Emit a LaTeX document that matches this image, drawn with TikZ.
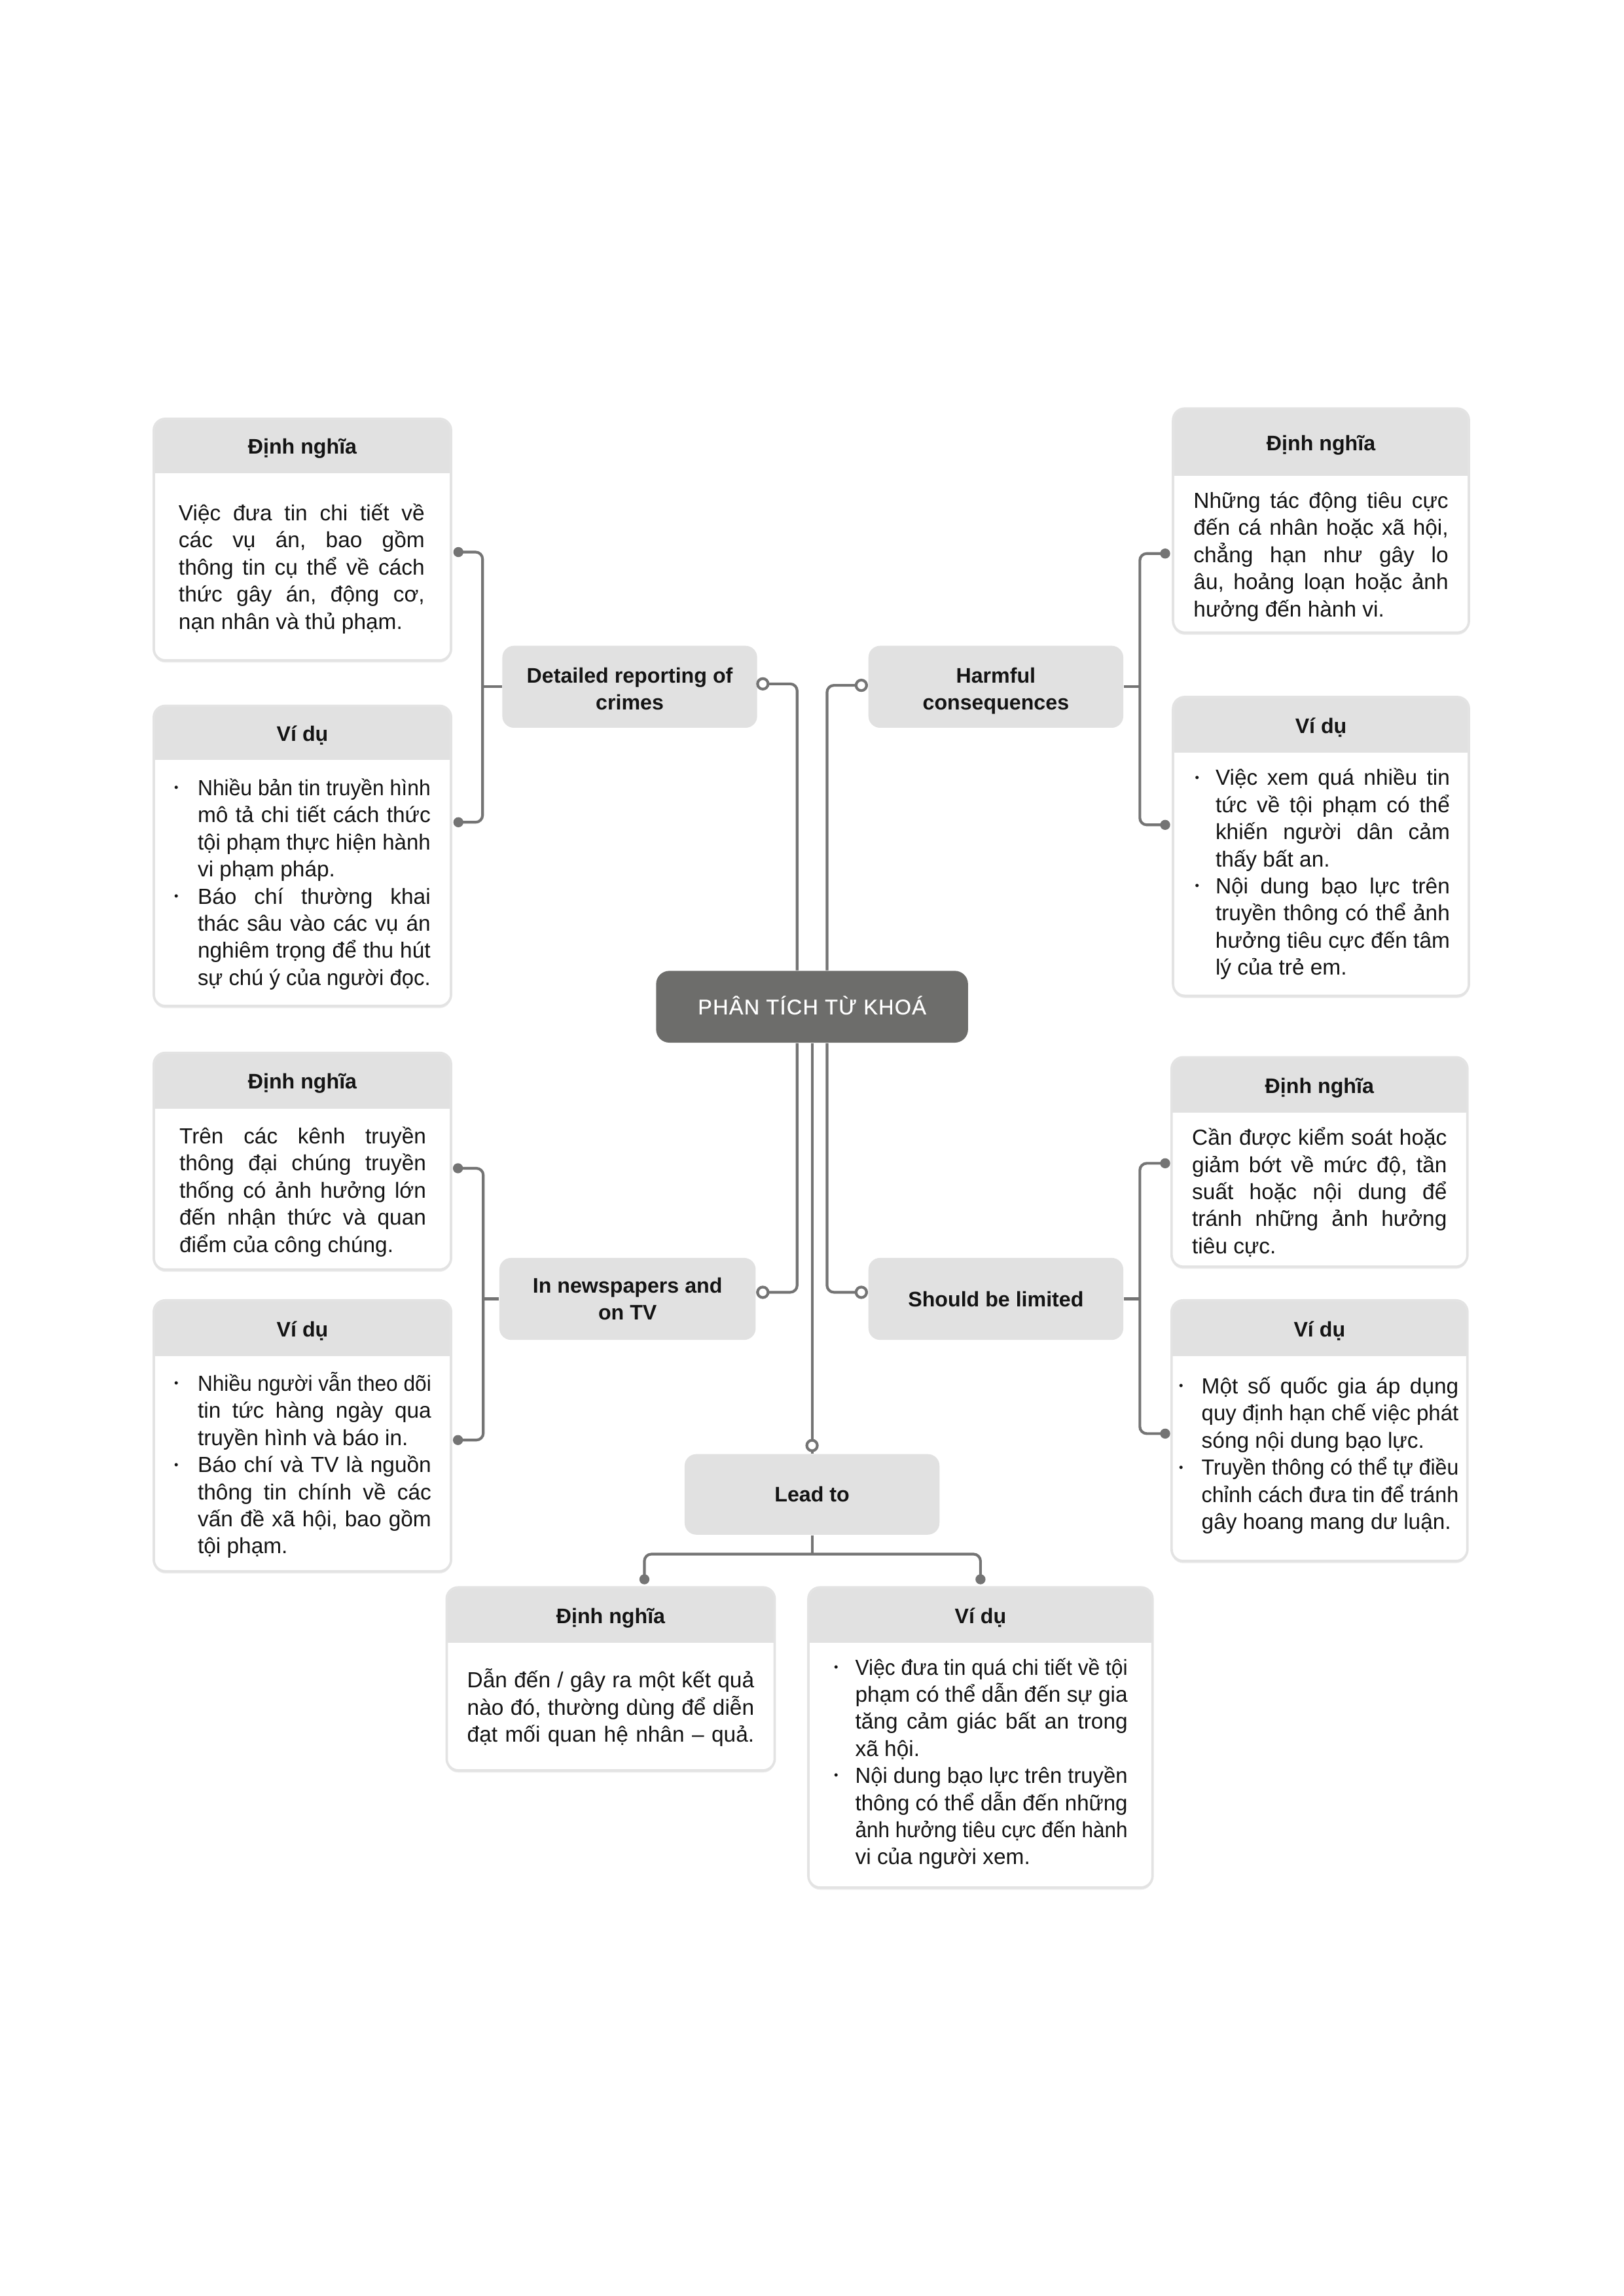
\documentclass[tikz,border=0pt]{standalone}
\usepackage{fontspec}
\setmainfont{Liberation Sans}
\usepackage{graphicx}
\usetikzlibrary{calc}
\definecolor{hdrc}{HTML}{E1E1E1}
\definecolor{topicc}{HTML}{E1E1E1}
\definecolor{brdc}{HTML}{E3E3E3}
\definecolor{shdc}{HTML}{ECECEC}
\definecolor{lnc}{HTML}{747474}
\definecolor{ctrc}{HTML}{6D6D6B}
\definecolor{txtc}{HTML}{141414}
\newlength\uL \setlength\uL{0.018943cm}
\newlength\jw \newlength\jn \newlength\bh
\newsavebox\jbox
\newcommand\jFin{\ht\jbox=\ht\strutbox \dp\jbox=\dp\strutbox \box\jbox}
\newcommand\jLine[1]{\sbox\jbox{#1}\setlength\jn{\wd\jbox}%
  \ifdim\jn>\jw
    \pgfmathsetmacro\jr{\jw/\jn}\sbox\jbox{\scalebox{\jr}[1]{\usebox\jbox}}%
  \else
    \sbox\jbox{\hbox to\jw{\spaceskip=\fontdimen2\font plus 1fil\relax #1}}%
  \fi\jFin}
\newcommand\jLast[1]{\sbox\jbox{#1}\setlength\jn{\wd\jbox}%
  \ifdim\jn>\jw
    \pgfmathsetmacro\jr{\jw/\jn}\sbox\jbox{\scalebox{\jr}[1]{\usebox\jbox}}%
  \fi\jFin}
\newcommand\bFont{\fontsize{8.05pt}{9.97pt}\selectfont\frenchspacing\lineskiplimit=-\maxdimen\relax}
\newcommand\bDot{\makebox[\bh][l]{\raisebox{0.17em}{\scalebox{0.55}{\textbullet}}}}
\newcommand\pBody[2]{\parbox{#1\uL}{\bFont\setlength\jw{#1\uL}#2}}
\newcommand\lBody[3]{\parbox{#1\uL}{\bFont\setlength\jw{\dimexpr#1\uL-#2\uL\relax}\setlength\bh{#2\uL}#3}}
\newcommand\bItem[1]{\hbox{\bDot\jLine{#1}}}
\newcommand\bCont[1]{\hbox{\kern\bh\jLine{#1}}}
\newcommand\bLast[1]{\hbox{\kern\bh\jLast{#1}}}
\newcommand\lowTwo[2]{\raisebox{-3\uL}[\height][\depth]{\begin{tabular}{@{}c@{}}#1\\#2\end{tabular}}}
\tikzset{
  conn/.style={draw=lnc, line width=1pt, rounded corners=0.09cm},
  ttl/.style={inner sep=0, text=txtc, yshift=-0.035cm, font=\fontsize{7.75pt}{9.7pt}\selectfont\bfseries},
  bodyn/.style={inner sep=0, text=txtc, yshift=-0.035cm},
  topicn/.style={fill=topicc, rounded corners=0.15cm, inner sep=0, align=center, text=txtc, font=\fontsize{7.75pt}{9.7pt}\selectfont\bfseries},
  opendot/.style={draw=lnc, line width=1pt, fill=white},
  fulldot/.style={fill=lnc}
}
\newcommand\infobox[6]{%
  \fill[shdc, rounded corners=0.15cm] (#2,#3+1.5) rectangle (#4,#5+1.5);
  \node[inner sep=0, minimum width={(#4-#2)*\uL}, minimum height={(#5-#3)*\uL}] (#1) at ({(#2+#4)/2},{(#3+#5)/2}) {};
  \fill[white, rounded corners=0.15cm] (#2,#3) rectangle (#4,#5);
  \begin{scope}
    \clip[rounded corners=0.15cm] (#2,#3) rectangle (#4,#5);
    \fill[hdrc] (#2,#3) rectangle (#4,#6);
  \end{scope}
  \draw[brdc, line width=0.9pt, rounded corners=0.15cm] (#2,#3) rectangle (#4,#5);
}
\newcommand\tnode[6]{%
  \node[topicn, minimum width={(#4-#2)*\uL}, minimum height={(#5-#3)*\uL}] (#1) at ({(#2+#4)/2},{(#3+#5)/2}) {#6};
}
\begin{document}
\begin{tikzpicture}[x=0.018943cm, y=-0.018943cm]
\useasboundingbox (0,0) rectangle (1108.58,1567.94);
% ---------- boxes
\infobox{A}{105}{286}{308}{451}{323}
\infobox{B}{105}{482}{308}{687}{519}
\infobox{C}{801}{279}{1003}{432}{325}
\infobox{D}{801}{476}{1003}{680}{514}
\infobox{E}{105}{719}{308}{867}{757}
\infobox{F}{105}{888}{308}{1073}{926}
\infobox{G}{800}{722}{1002}{865}{760}
\infobox{H}{800}{888}{1002}{1066}{926}
\infobox{I}{305}{1084}{529}{1209}{1122}
\infobox{J}{552}{1084}{787}{1289}{1122}
% ---------- titles
\node[ttl] (A-t) at (206.5,304.5) {Định nghĩa};
\node[ttl] (B-t) at (206.5,500.5) {Ví dụ};
\node[ttl] (C-t) at (902,302) {Định nghĩa};
\node[ttl] (D-t) at (902,495) {Ví dụ};
\node[ttl] (E-t) at (206.5,738) {Định nghĩa};
\node[ttl] (F-t) at (206.5,907) {Ví dụ};
\node[ttl] (G-t) at (901,741) {Định nghĩa};
\node[ttl] (H-t) at (901,907) {Ví dụ};
\node[ttl] (I-t) at (417,1103) {Định nghĩa};
\node[ttl] (J-t) at (669.5,1103) {Ví dụ};
% ---------- bodies
\node[bodyn] (A-b) at (206,387) {\pBody{168}{%
\jLine{Việc đưa tin chi tiết về}
\jLine{các vụ án, bao gồm}
\jLine{thông tin cụ thể về cách}
\jLine{thức gây án, động cơ,}
\jLast{nạn nhân và thủ phạm.}}};
\node[bodyn] (B-b) at (206.5,602.5) {\lBody{175}{16}{%
\bItem{Nhiều bản tin truyền hình}
\bCont{mô tả chi tiết cách thức}
\bCont{tội phạm thực hiện hành}
\bLast{vi phạm pháp.}
\bItem{Báo chí thường khai}
\bCont{thác sâu vào các vụ án}
\bCont{nghiêm trọng để thu hút}
\bLast{sự chú ý của người đọc.}}};
\node[bodyn] (C-b) at (902,378.5) {\pBody{174}{%
\jLine{Những tác động tiêu cực}
\jLine{đến cá nhân hoặc xã hội,}
\jLine{chẳng hạn như gây lo}
\jLine{âu, hoảng loạn hoặc ảnh}
\jLast{hưởng đến hành vi.}}};
\node[bodyn] (D-b) at (903,595.5) {\lBody{174}{14}{%
\bItem{Việc xem quá nhiều tin}
\bCont{tức về tội phạm có thể}
\bCont{khiến người dân cảm}
\bLast{thấy bất an.}
\bItem{Nội dung bạo lực trên}
\bCont{truyền thông có thể ảnh}
\bCont{hưởng tiêu cực đến tâm}
\bLast{lý của trẻ em.}}};
\node[bodyn] (E-b) at (206.75,812.5) {\pBody{168.5}{%
\jLine{Trên các kênh truyền}
\jLine{thông đại chúng truyền}
\jLine{thống có ảnh hưởng lớn}
\jLine{đến nhận thức và quan}
\jLast{điểm của công chúng.}}};
\node[bodyn] (F-b) at (206.75,1000) {\lBody{175.5}{16}{%
\bItem{Nhiều người vẫn theo dõi}
\bCont{tin tức hàng ngày qua}
\bLast{truyền hình và báo in.}
\bItem{Báo chí và TV là nguồn}
\bCont{thông tin chính về các}
\bCont{vấn đề xã hội, bao gồm}
\bLast{tội phạm.}}};
\node[bodyn] (G-b) at (901,813.5) {\pBody{174}{%
\jLine{Cần được kiểm soát hoặc}
\jLine{giảm bớt về mức độ, tần}
\jLine{suất hoặc nội dung để}
\jLine{tránh những ảnh hưởng}
\jLast{tiêu cực.}}};
\node[bodyn] (H-b) at (900.5,992.5) {\lBody{191}{15.5}{%
\bItem{Một số quốc gia áp dụng}
\bCont{quy định hạn chế việc phát}
\bLast{sóng nội dung bạo lực.}
\bItem{Truyền thông có thể tự điều}
\bCont{chỉnh cách đưa tin để tránh}
\bLast{gây hoang mang dư luận.}}};
\node[bodyn] (I-b) at (417,1165.5) {\pBody{196}{%
\jLine{Dẫn đến / gây ra một kết quả}
\jLine{nào đó, thường dùng để diễn}
\jLine{đạt mối quan hệ nhân – quả.}}};
\node[bodyn] (J-b) at (669.75,1203) {\lBody{200.5}{14.5}{%
\bItem{Việc đưa tin quá chi tiết về tội}
\bCont{phạm có thể dẫn đến sự gia}
\bCont{tăng cảm giác bất an trong}
\bLast{xã hội.}
\bItem{Nội dung bạo lực trên truyền}
\bCont{thông có thể dẫn đến những}
\bCont{ảnh hưởng tiêu cực đến hành}
\bLast{vi của người xem.}}};
% ---------- topic nodes
\tnode{det}{343}{441}{517}{497}{\lowTwo{Detailed reporting of}{crimes}}
\tnode{harm}{593}{441}{767}{497}{\lowTwo{Harmful}{consequences}}
\tnode{news}{341}{859}{516}{915}{In newspapers and\\on TV}
\tnode{lim}{593}{859}{767}{915}{Should be limited}
\tnode{lead}{467.5}{993}{641.5}{1048}{Lead to}
\node[fill=ctrc, rounded corners=0.17cm, inner sep=0, minimum width={213*\uL}, minimum height={49*\uL}, text=white, font=\fontsize{7.8pt}{9pt}\selectfont\addfontfeature{LetterSpace=4,FakeBold=0.6}, text height=5.6pt, text depth=0pt] (ctr) at (554.5,687.5) {PHÂN TÍCH TỪ KHOÁ};
% ---------- central connectors
\draw[conn] ($(ctr.north)+(-10.2,0)$) |- ($(det.east)+(0,-2)$);
\draw[conn] ($(ctr.north)+(10.2,0)$) |- ($(harm.west)+(0,-1)$);
\draw[conn] ($(ctr.south)+(-10.2,0)$) |- ($(news.east)+(0,-4.5)$);
\draw[conn] ($(ctr.south)+(10.2,0)$) |- ($(lim.west)+(0,-4.5)$);
\draw[conn] (ctr.south) -- (lead.north);
\draw[opendot] ($(det.east)+(3.5,-2)$) circle[radius=0.068cm];
\draw[opendot] ($(harm.west)+(-4.5,-1)$) circle[radius=0.068cm];
\draw[opendot] ($(news.east)+(4.5,-4.5)$) circle[radius=0.068cm];
\draw[opendot] ($(lim.west)+(-4.5,-4.5)$) circle[radius=0.068cm];
\draw[opendot] ($(lead.north)+(0,-5.5)$) circle[radius=0.068cm];
% ---------- brackets
\coordinate (A-d) at (313,377);
\coordinate (B-d) at (313,561.5);
\draw[conn] (A-d) -| ($(B-d)+(16.5,0)$) -- (B-d);
\draw[conn] (det.west) -- ++(-13.5,0);
\coordinate (C-d) at (795.6,378);
\coordinate (D-d) at (795.6,563.3);
\draw[conn] (C-d) -| ($(D-d)+(-17.3,0)$) -- (D-d);
\draw[conn] (harm.east) -- ++(11.3,0);
\coordinate (E-d) at (312.7,797.8);
\coordinate (F-d) at (312.7,983.4);
\draw[conn] (E-d) -| ($(F-d)+(17.3,0)$) -- (F-d);
\draw[conn] (news.west) -- ++(-11,0);
\coordinate (G-d) at (795.6,794.4);
\coordinate (H-d) at (795.6,979);
\draw[conn] (G-d) -| ($(H-d)+(-17.3,0)$) -- (H-d);
\draw[conn] (lim.east) -- ++(11.3,0);
\coordinate (I-d) at (440,1078.5);
\coordinate (J-d) at (669.5,1078.5);
\draw[conn] (I-d) |- ($(J-d)+(0,-17.2)$) -- (J-d);
\draw[conn] (lead.south) -- ++(0,13.3);
\foreach \p in {A-d,B-d,C-d,D-d,E-d,F-d,G-d,H-d,I-d,J-d}
  \fill[fulldot] (\p) circle[radius=0.065cm];
\end{tikzpicture}
\end{document}
